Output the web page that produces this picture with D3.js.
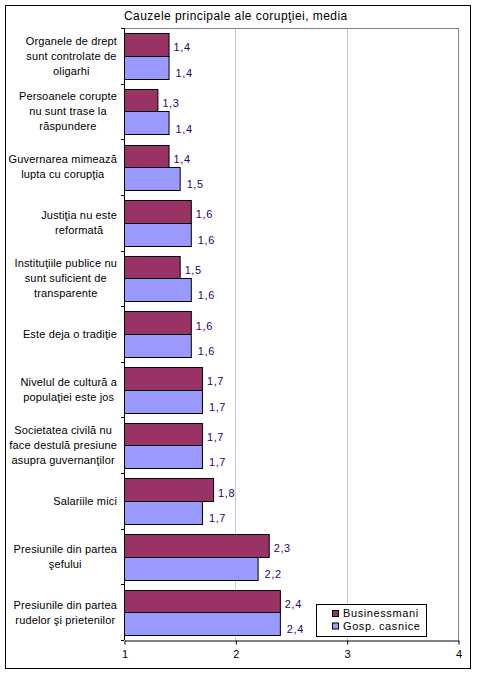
<!DOCTYPE html>
<html>
<head>
<meta charset="utf-8">
<script src="https://cdn.jsdelivr.net/npm/d3@7"></script>
<style>
  body { margin: 0; background: #fff; }
  svg text { font-family: "Liberation Sans", Arial, sans-serif; }
</style>
</head>
<body>
<div id="chart"></div>
<script>
// Chart data
const categories = [
  ["Organele de drept", "sunt controlate de", "oligarhi"],
  ["Persoanele corupte", "nu sunt  trase la", "răspundere"],
  ["Guvernarea mimează", "lupta cu corupţia"],
  ["Justiţia nu este", "reformată"],
  ["Instituţiile publice nu", "sunt suficient de", "transparente"],
  ["Este deja o tradiţie"],
  ["Nivelul de cultură a", "populaţiei este  jos"],
  ["Societatea civilă nu", "face destulă presiune", "asupra guvernanţilor"],
  ["Salariile mici"],
  ["Presiunile din partea", "şefului"],
  ["Presiunile din partea", "rudelor şi prietenilor"],
];
const businessValues = [1.4, 1.3, 1.4, 1.6, 1.5, 1.6, 1.7, 1.7, 1.8, 2.3, 2.4];
const householdValues = [1.4, 1.4, 1.5, 1.6, 1.6, 1.6, 1.7, 1.7, 1.7, 2.2, 2.4];
const seriesNames = ["Businessmani", "Gosp. casnice"];
const xTicks = [1, 2, 3, 4];
const title = "Cauzele principale ale corupţiei, media";

// Layout
const W = 478, H = 675;
const plot = { left: 124, right: 458, top: 28, bottom: 640 };
const colors = ["#993366", "#9999ff"];
const labelColor = "#330066";

const svg = d3.select("#chart").append("svg")
  .attr("width", W).attr("height", H);

// outer frame
svg.append("rect")
  .attr("x", 5.5).attr("y", 5.5).attr("width", 465).attr("height", 663)
  .attr("fill", "#fff").attr("stroke", "#000");

const x = d3.scaleLinear().domain([1, 4]).range([plot.left, plot.right]);
const catIdx = d3.range(categories.length);
const y = d3.scaleBand().domain(catIdx).range([plot.top, plot.bottom]).padding(0);
const yInner = d3.scaleBand().domain([0, 1]).range([0, y.bandwidth()])
  .paddingInner(0).paddingOuter(0.236);

// gridlines
svg.append("g").selectAll("line")
  .data([2, 3])
  .join("line")
  .attr("x1", d => Math.round(x(d)) + 0.5).attr("x2", d => Math.round(x(d)) + 0.5)
  .attr("y1", plot.top).attr("y2", plot.bottom)
  .attr("stroke", "#c8c8e0");

// plot area top / right border
svg.append("path")
  .attr("d", `M${plot.left},${plot.top + 0.5}H${plot.right + 0.5}V${plot.bottom}`)
  .attr("fill", "none").attr("stroke", "#808080");

// bars
const series = [businessValues, householdValues];
series.forEach((vals, s) => {
  const g = svg.append("g");
  g.selectAll("rect")
    .data(vals)
    .join("rect")
    .attr("x", plot.left + 0.5)
    .attr("y", (d, i) => Math.round(y(i) + yInner(s)) + 0.5)
    .attr("width", d => x(d) - plot.left)
    .attr("height", Math.round(yInner.bandwidth()))
    .attr("fill", colors[s])
    .attr("stroke", "#000");

  g.selectAll("text")
    .data(vals)
    .join("text")
    .attr("x", d => x(d) + (s === 0 ? 5 : 7))
    .attr("y", (d, i) => y(i) + yInner(s) + yInner.bandwidth() / 2 + (s === 0 ? 3 : 6))
    .attr("dy", "0.35em")
    .attr("font-size", 11)
    .attr("letter-spacing", 0.6)
    .attr("fill", labelColor)
    .text(d => d.toFixed(1).replace(".", ","));
});

// y axis line + ticks
svg.append("line")
  .attr("x1", plot.left + 0.5).attr("x2", plot.left + 0.5)
  .attr("y1", plot.top).attr("y2", plot.bottom)
  .attr("stroke", "#000");
svg.append("g").selectAll("line")
  .data(d3.range(categories.length + 1))
  .join("line")
  .attr("x1", plot.left - 3).attr("x2", plot.left)
  .attr("y1", d => Math.round(plot.top + d * y.step()) + 0.5)
  .attr("y2", d => Math.round(plot.top + d * y.step()) + 0.5)
  .attr("stroke", "#000");

// category labels, centred blocks with right edge near the axis
const labelRight = 117;
const lineH = 15;
const catG = svg.append("g");
categories.forEach((lines, i) => {
  const t = catG.append("text")
    .attr("font-size", 11)
    .attr("letter-spacing", 0.15)
    .attr("fill", "#000")
    .attr("text-anchor", "middle");
  const cy = y(i) + y.bandwidth() / 2;
  lines.forEach((ln, j) => {
    t.append("tspan")
      .attr("y", cy + (j - (lines.length - 1) / 2) * lineH)
      .attr("dy", "0.35em")
      .text(ln);
  });
  const widths = t.selectAll("tspan").nodes().map(n => n.getComputedTextLength());
  const cx = labelRight - d3.max(widths) / 2;
  t.selectAll("tspan").attr("x", cx);
});

// x axis
const xAxis = svg.append("g")
  .attr("transform", `translate(0.5,${plot.bottom + 0.5})`)
  .call(d3.axisBottom(x).tickValues(xTicks).tickSize(4).tickSizeOuter(0)
    .tickFormat(d3.format("d")));
xAxis.select(".domain").attr("stroke", "#000");
xAxis.selectAll("line").attr("stroke", "#000");
xAxis.selectAll("text")
  .attr("font-size", 11)
  .attr("font-family", "Liberation Sans, Arial, sans-serif")
  .attr("fill", "#000")
  .attr("y", 10);

// title
svg.append("text")
  .attr("x", 124).attr("y", 16)
  .attr("dy", "0.35em")
  .attr("font-size", 12)
  .attr("letter-spacing", 0.45)
  .attr("fill", "#000")
  .text(title);

// legend
const legend = svg.append("g").attr("transform", "translate(316.5,604.5)");
legend.append("rect")
  .attr("width", 110).attr("height", 32)
  .attr("fill", "#fff").attr("stroke", "#000");
seriesNames.forEach((name, s) => {
  const ly = 9 + s * 12.5;
  legend.append("rect")
    .attr("x", 16).attr("y", ly - 3)
    .attr("width", 6).attr("height", 6)
    .attr("fill", colors[s]).attr("stroke", "#000");
  legend.append("text")
    .attr("x", 26.5).attr("y", ly)
    .attr("dy", "0.35em")
    .attr("font-size", 11)
    .attr("letter-spacing", 0.6)
    .attr("fill", "#000")
    .text(name);
});
</script>
</body>
</html>
